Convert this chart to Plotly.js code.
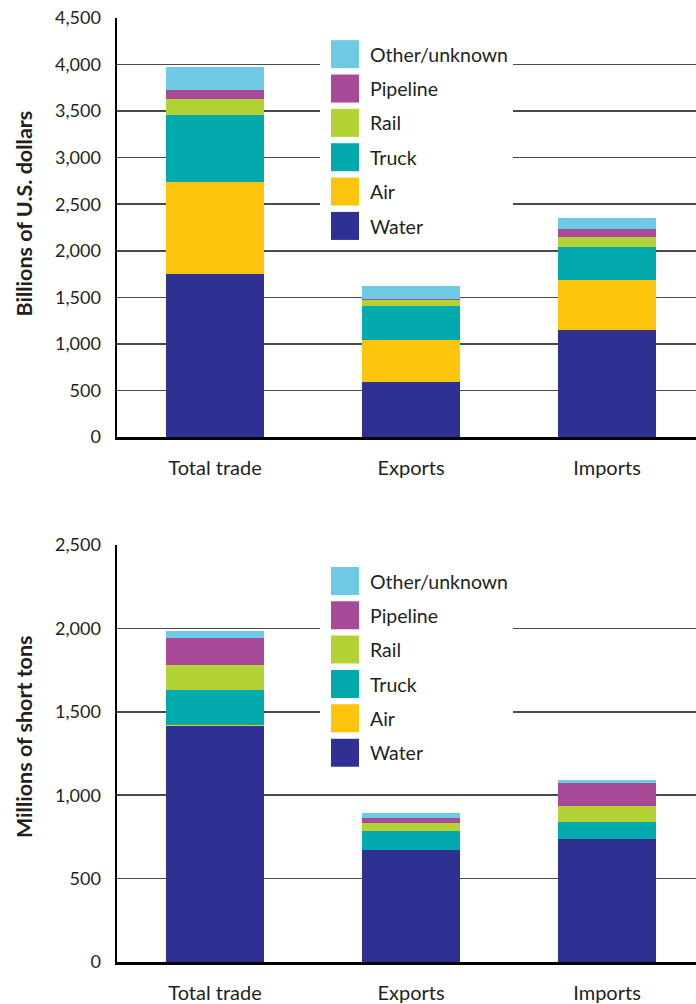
<!DOCTYPE html>
<html><head><meta charset="utf-8">
<script src="https://cdn.plot.ly/plotly-3.0.1.min.js"></script>
<style>html,body{margin:0;padding:0;background:#fff}</style>
</head><body><div id="chart" style="width:696px;height:1004px"></div>
<script>
// ---- Data ----
const categories = ["Total trade", "Exports", "Imports"];
const modeNames = ["Water", "Air", "Truck", "Rail", "Pipeline", "Other/unknown"];

// Value (billions of U.S. dollars)
const valueWater    = [1750, 590, 1150];
const valueAir      = [990, 450, 535];
const valueTruck    = [720, 370, 355];
const valueRail     = [170, 60, 105];
const valuePipeline = [100, 10, 90];
const valueOther    = [245, 140, 115];

// Weight (millions of short tons)
const tonsWater    = [1415, 670, 735];
const tonsAir      = [5, 4, 5];
const tonsTruck    = [210, 110, 100];
const tonsRail     = [150, 47, 93];
const tonsPipeline = [160, 30, 140];
const tonsOther    = [45, 30, 17];

const yTicksTop = [0, 500, 1000, 1500, 2000, 2500, 3000, 3500, 4000, 4500];
const yTicksBottom = [0, 500, 1000, 1500, 2000, 2500];

const titleTop = "Billions of U.S. dollars";
const titleBottom = "Millions of short tons";

// ---- Styles ----
const modeColors = ["#2E3192", "#FCC40C", "#02AAAE", "#B2D235", "#A84A98", "#6ECAE4"];
const FONT = "Lato, 'Open Sans', sans-serif";
const TXT = "#231f20";

const valueSeries = [valueWater, valueAir, valueTruck, valueRail, valuePipeline, valueOther];
const tonsSeries = [tonsWater, tonsAir, tonsTruck, tonsRail, tonsPipeline, tonsOther];

const traces = [];
valueSeries.forEach((vals, i) => {
  traces.push({
    type: "bar", x: categories, y: vals, name: modeNames[i],
    marker: {color: modeColors[i], line: {width: 0}},
    xaxis: "x", yaxis: "y", legend: "legend", legendgroup: "a" + i,
    legendrank: 10 - i, hoverinfo: "y+name"
  });
});
tonsSeries.forEach((vals, i) => {
  traces.push({
    type: "bar", x: categories, y: vals, name: modeNames[i],
    marker: {color: modeColors[i], line: {width: 0}},
    xaxis: "x2", yaxis: "y2", legend: "legend2", legendgroup: "b" + i,
    legendrank: 10 - i, hoverinfo: "y+name"
  });
});

const yaxisCommon = {
  showline: true, linecolor: "#000", linewidth: 2.5,
  showgrid: true, gridcolor: "#4a4a4a", gridwidth: 1.6,
  zeroline: false, ticks: "", tickformat: ",d",
  tickfont: {family: FONT, size: 18, color: TXT},
  ticklabelstandoff: 10, automargin: false,
  fixedrange: true
};
const xaxisCommon = {
  type: "category", range: [-0.5, 2.454],
  showline: true, linecolor: "#000", linewidth: 2.5,
  showgrid: false, zeroline: false, ticks: "",
  tickfont: {family: FONT, size: 20, color: TXT},
  ticklabelstandoff: 11, fixedrange: true
};
const legendCommon = {
  bgcolor: "#fff", borderwidth: 0, xanchor: "left", yanchor: "top",
  traceorder: "grouped", tracegroupgap: 6, itemwidth: 40,
  font: {family: FONT, size: 19.5, color: TXT}, itemclick: false, itemdoubleclick: false
};
const titleAnn = {
  xref: "paper", yref: "paper", x: 0, xshift: -93, textangle: -90,
  xanchor: "center", yanchor: "middle", showarrow: false,
  font: {family: FONT, size: 21.5, color: TXT}
};

const layout = {
  width: 696, height: 1004,
  margin: {l: 117, r: 0, t: 18, b: 42},
  paper_bgcolor: "#fff", plot_bgcolor: "#fff",
  barmode: "stack", bargap: 0.5,
  font: {family: FONT, color: TXT},
  showlegend: true,
  xaxis: Object.assign({}, xaxisCommon, {domain: [0, 1], anchor: "y"}),
  yaxis: Object.assign({}, yaxisCommon, {
    domain: [0.5561, 1], anchor: "x", range: [0, 4500], tickvals: yTicksTop
  }),
  xaxis2: Object.assign({}, xaxisCommon, {domain: [0, 1], anchor: "y2"}),
  yaxis2: Object.assign({}, yaxisCommon, {
    domain: [0, 0.4417], anchor: "x2", range: [0, 2500], tickvals: yTicksBottom
  }),
  legend: Object.assign({}, legendCommon, {x: 0.3506, y: 0.982}),
  legend2: Object.assign({}, legendCommon, {x: 0.3506, y: 0.424}),
  annotations: [
    Object.assign({}, titleAnn, {y: 0.7929, text: "<b>" + titleTop + "</b>"}),
    Object.assign({}, titleAnn, {y: 0.2383, text: "<b>" + titleBottom + "</b>"})
  ]
};

Plotly.newPlot("chart", traces, layout, {staticPlot: true, displayModeBar: false}).then(gd => {
  document.querySelectorAll(".legendpoints path").forEach(p => {
    p.setAttribute("d", "M14,14H-14V-14H14Z");
  });
});
</script>
</body></html>
